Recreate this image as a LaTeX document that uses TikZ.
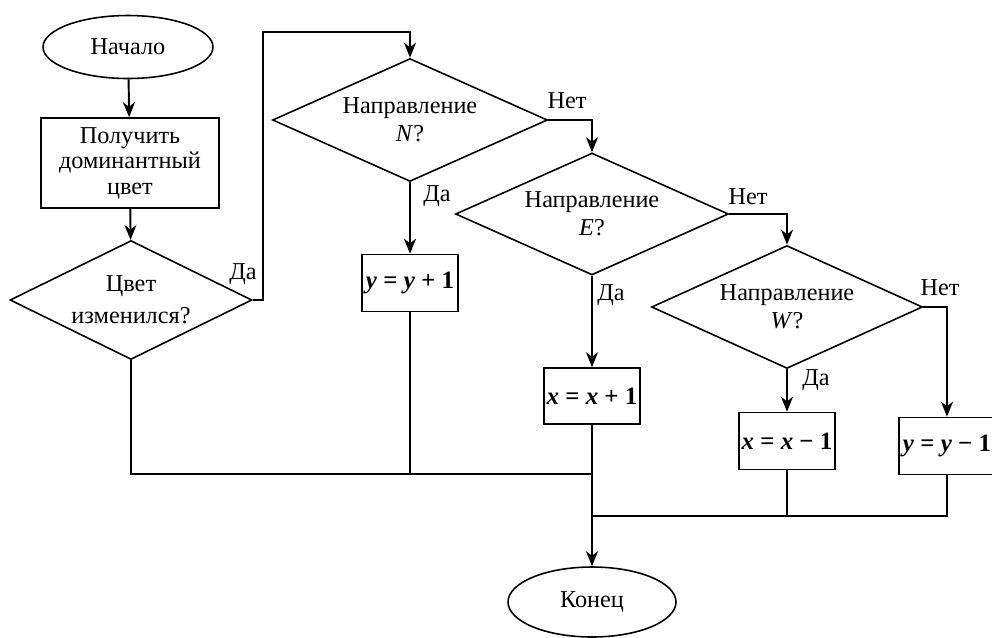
\documentclass[tikz,border=0pt]{standalone}
\usepackage{fontspec}
\setmainfont{Liberation Serif}
\usepackage{tikz}
\usetikzlibrary{shapes.geometric, arrows.meta}

\begin{document}
\begin{tikzpicture}[x=0.02cm, y=-0.02cm,
	every node/.style = {font=\fontsize{13.8}{16}\selectfont, align=center, inner sep=0pt},
	flow/.style = {line width=1.1pt, -{Stealth[length=3mm, width=2.4mm, inset=0.9mm]}},
	block/.style = {draw, shape = rectangle, line width=0.9pt},
	calc/.style = {block, minimum width=1.92cm, minimum height=1.14cm, font=\fontsize{14.2}{17}\selectfont},
	cond/.style = {draw, shape = diamond, aspect=2.2, line width=0.9pt}]
	\useasboundingbox (0,0) rectangle (992,637);

	\node[draw, shape = ellipse, line width=0.9pt, minimum width=3.4cm, minimum height=1.26cm] (s0) at (128, 47) {Начало};
	\node[block, minimum width=3.56cm, minimum height=1.8cm, font=\fontsize{13.8}{14.5}\selectfont] (s1) at (130, 163) {Получить\\доминантный\\цвет};
	\node[cond, minimum width=4.84cm, minimum height=2.38cm, font=\fontsize{13.8}{18}\selectfont] (s2) at (131, 300) {Цвет\\изменился?};

	\node[cond, minimum width=5.5cm, minimum height=2.46cm] (s3) at (410, 120) {Направление\\\textit{N}?};
	\node[cond, minimum width=5.46cm, minimum height=2.44cm] (s4) at (592, 214) {Направление\\\textit{E}?};
	\node[cond, minimum width=5.42cm, minimum height=2.46cm] (s5) at (787, 307) {Направление\\\textit{W}?};

	\node[calc] (s6) at (410, 283) {\textbf{\textit{y} = \textit{y} + 1}};
	\node[calc, minimum height=1.12cm] (s7) at (592, 396) {\textbf{\textit{x} = \textit{x} + 1}};
	\node[calc] (s8) at (787, 441) {\textbf{\textit{x} = \textit{x} − 1}};
	\node[calc] (s9) at (947, 446) {\textbf{\textit{y} = \textit{y} − 1}};

	\node[draw, shape = ellipse, line width=0.9pt, minimum width=3.36cm, minimum height=1.4cm] (s10) at (592, 602) {Конец};

	\node[] (yes1) at (243, 274) {Да};
	\node[] (no1) at (567, 101) {Нет};
	\node[] (yes2) at (437, 196) {Да};
	\node[] (no2) at (748, 197) {Нет};
	\node[] (yes3) at (611, 295) {Да};
	\node[] (no3) at (940, 288) {Нет};
	\node[] (yes4) at (816, 380) {Да};

	\coordinate (c1) at (263, 32);
	\coordinate (j1) at (592, 474);
	\coordinate (j2) at (592, 516);

	\draw[flow] (s0) -- (s1);
	\draw[flow] (s1) -- (s2);
	\draw[flow] (s2.east) -| (c1) -| (s3.north);
	\draw[flow] (s3.east) -| (s4.north);
	\draw[flow] (s4.east) -| (s5.north);
	\draw[flow] (s5.east) -| (s9.north);
	\draw[flow] (s3.south) -- (s6.north);
	\draw[flow] (s4.south) -- (s7.north);
	\draw[flow] (s5.south) -- (s8.north);

	\draw[line width=0.9pt] (s2.south) |- (j1);
	\draw[line width=0.9pt] (s6.south) -- (s6.south |- j1);
	\draw[line width=0.6pt] (s8.south) -- (s8.south |- j2);
	\draw[line width=1.1pt] (s9.south) |- (j2);
	\draw[flow] (s7.south) -- (s10.north);

\end{tikzpicture}
\end{document}
